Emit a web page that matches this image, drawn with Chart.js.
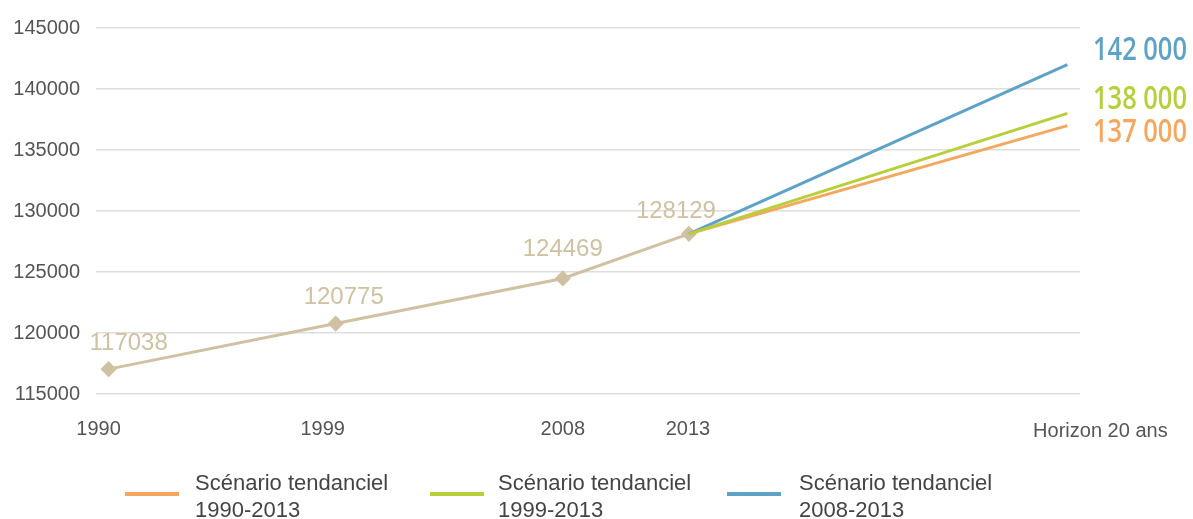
<!DOCTYPE html>
<html>
<head>
<meta charset="utf-8">
<script src="https://cdn.jsdelivr.net/npm/chart.js@4.4.1/dist/chart.umd.min.js"></script>
<style>
  html, body { margin: 0; padding: 0; background: #fff; }
  #wrap { width: 1193px; height: 519px; position: relative; }
</style>
</head>
<body>
<div id="wrap"><canvas id="myChart"></canvas></div>
<script>
// historical population
var years = [1990, 1999, 2008, 2013];
var population = [117038, 120775, 124469, 128129];

// projections
var horizonYear = 2028;
var horizonLabel = 'Horizon 20 ans';
var scenarioNames = [['Scénario tendanciel', '1990-2013'], ['Scénario tendanciel', '1999-2013'], ['Scénario tendanciel', '2008-2013']];
var scenarioEnd = [137000, 138000, 142000];
var scenarioColors = ['#f5a85d', '#b8cf3b', '#5ea2c7'];
var historyColor = '#cfc1a1';

var yMin = 115000, yMax = 145000, yStep = 5000;

function spaced(n) {
    return String(n).replace(/\B(?=(\d{3})+(?!\d))/g, ' ');
}

var labelsPlugin = {
    id: 'labels',
    afterDatasetsDraw: function(chart) {
        var ctx = chart.ctx;
        var xs = chart.scales.x;
        ctx.save();
        ctx.textBaseline = 'middle';

        // values above the diamonds
        var meta = chart.getDatasetMeta(0);
        var dx = [20, 8, 0, -13], dy = [-26, -26, -29, -22];
        ctx.font = '24px "Liberation Sans", Arial, sans-serif';
        ctx.fillStyle = historyColor;
        ctx.textAlign = 'center';
        meta.data.forEach(function(p, i) {
            ctx.fillText(String(population[i]), p.x + dx[i], p.y + dy[i]);
        });

        // x labels
        ctx.font = '20px "Liberation Sans", Arial, sans-serif';
        ctx.fillStyle = '#555';
        var xdx = [-10, -13, 0, -1];
        years.forEach(function(y, i) {
            ctx.fillText(String(y), xs.getPixelForValue(y) + xdx[i], 429);
        });
        ctx.fillText(horizonLabel, xs.getPixelForValue(horizonYear) + 33, 431);

        // end values of the scenarios
        var endDy = [7, -14, -14];
        ctx.textAlign = 'left';
        ctx.font = '600 32px "Open Sans", sans-serif';
        scenarioEnd.forEach(function(v, i) {
            var m = chart.getDatasetMeta(i + 1);
            var p = m.data[m.data.length - 1];
            var txt = spaced(v);
            var w = ctx.measureText(txt).width;
            ctx.save();
            ctx.translate(chart.chartArea.right + 13, p.y + endDy[i]);
            ctx.scale(94 / w, 1);
            ctx.fillStyle = scenarioColors[i];
            ctx.fillText(txt, 0, 0);
            ctx.restore();
        });

        // legend
        var lineX = [125, 430, 727], textX = [195, 498, 799];
        ctx.font = '22px "Liberation Sans", Arial, sans-serif';
        scenarioNames.forEach(function(name, i) {
            ctx.strokeStyle = scenarioColors[i];
            ctx.lineWidth = 4;
            ctx.beginPath();
            ctx.moveTo(lineX[i], 494);
            ctx.lineTo(lineX[i] + 54, 494);
            ctx.stroke();
            ctx.fillStyle = '#444';
            ctx.fillText(name[0], textX[i], 484);
            ctx.fillText(name[1], textX[i], 511);
        });
        ctx.restore();
    }
};

var datasets = [{
    label: 'Population',
    data: years.map(function(y, i) { return {x: y, y: population[i]}; }),
    borderColor: historyColor,
    backgroundColor: historyColor,
    borderWidth: 3,
    pointStyle: 'rectRot',
    pointRadius: 6,
    pointHoverRadius: 6,
    order: 10
}];
var scenarioOrder = [3, 1, 2];
scenarioEnd.forEach(function(v, i) {
    datasets.push({
        label: scenarioNames[i].join(' '),
        data: [{x: years[years.length - 1], y: population[population.length - 1]}, {x: horizonYear, y: v}],
        borderColor: scenarioColors[i],
        backgroundColor: scenarioColors[i],
        borderWidth: 3,
        pointRadius: 0,
        order: scenarioOrder[i]
    });
});

var ctx = document.getElementById('myChart').getContext('2d');
var chart = new Chart(ctx, {
    type: 'line',
    data: { datasets: datasets },
    plugins: [labelsPlugin],
    options: {
        responsive: true,
        maintainAspectRatio: false,
        animation: false,
        layout: { padding: { left: 13, right: 113, top: 24, bottom: 125 } },
        plugins: { legend: { display: false }, tooltip: { enabled: false } },
        scales: {
            x: {
                type: 'linear',
                min: 1989.5,
                max: 2028.5,
                display: false
            },
            y: {
                min: yMin,
                max: yMax,
                border: { display: false },
                grid: { color: '#dedede', lineWidth: 1.5, drawTicks: false },
                afterFit: function(scale) { scale.width = 83; },
                ticks: {
                    stepSize: yStep,
                    padding: 16,
                    color: '#555',
                    font: { family: '"Liberation Sans", Arial, sans-serif', size: 20 },
                    callback: function(v) { return String(v); }
                }
            }
        }
    }
});
</script>
</body>
</html>
